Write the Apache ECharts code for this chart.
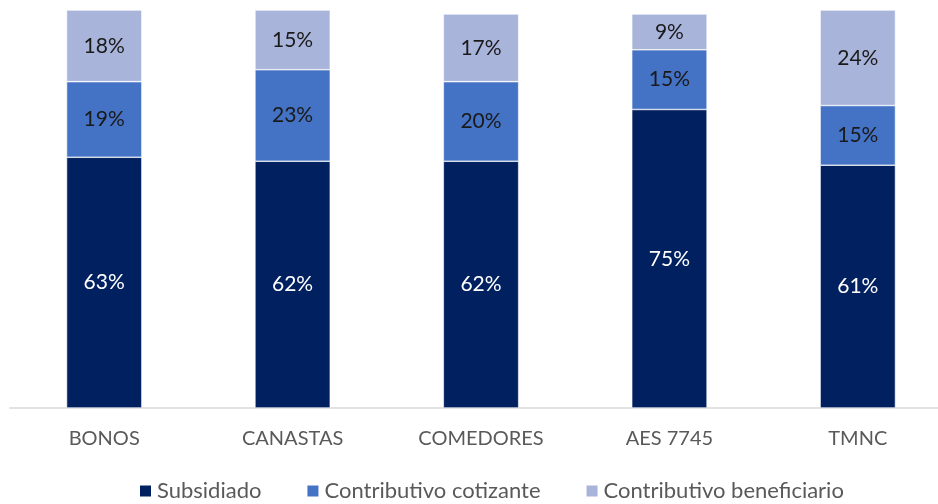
<!DOCTYPE html>
<html>
<head>
<meta charset="utf-8">
<script src="https://cdn.jsdelivr.net/npm/echarts@6/dist/echarts.min.js"></script>
<style>
  html, body { margin: 0; padding: 0; background: #fff; }
  #chart { width: 938px; height: 504px; }
</style>
</head>
<body>
<div id="chart"></div>
<script>
const categories = ['BONOS', 'CANASTAS', 'COMEDORES', 'AES 7745', 'TMNC'];
const subsidiado = [63, 62, 62, 75, 61];
const cotizante = [19, 23, 20, 15, 15];
const beneficiario = [18, 15, 17, 9, 24];

const FONT = 'Lato, "Open Sans", sans-serif';

function seriesOf(name, data, color, labelColor) {
  return {
    name: name,
    type: 'bar',
    stack: 'total',
    data: data,
    barWidth: '40%',
    itemStyle: { color: color, borderColor: '#ffffff', borderWidth: 0.6 },
    label: {
      show: true,
      position: 'inside',
      formatter: p => p.value + '%',
      color: labelColor,
      fontFamily: FONT,
      fontSize: 21
    }
  };
}

const chart = echarts.init(document.getElementById('chart'));
chart.setOption({
  animation: false,
  grid: { left: 10, top: 10, width: 942, height: 398, containLabel: false, outerBoundsMode: 'none' },
  legend: {
    top: 473,
    left: 133,
    itemWidth: 13,
    itemHeight: 13,
    itemGap: 44,
    icon: 'rect',
    textStyle: { color: '#595959', fontFamily: FONT, fontSize: 22, lineHeight: 26 }
  },
  xAxis: {
    type: 'category',
    data: categories,
    axisLine: { lineStyle: { color: '#d9d9d9', width: 1.5 } },
    axisTick: { show: false },
    axisLabel: { color: '#595959', fontFamily: FONT, fontSize: 20, margin: 21 }
  },
  yAxis: {
    type: 'value',
    min: 0,
    max: 100,
    show: false,
    splitLine: { show: false }
  },
  series: [
    seriesOf('Subsidiado', subsidiado, '#002060', '#ffffff'),
    seriesOf('Contributivo cotizante', cotizante, '#4472c4', '#1a1a1a'),
    seriesOf('Contributivo beneficiario', beneficiario, '#a9b4db', '#1a1a1a')
  ]
});
</script>
</body>
</html>
